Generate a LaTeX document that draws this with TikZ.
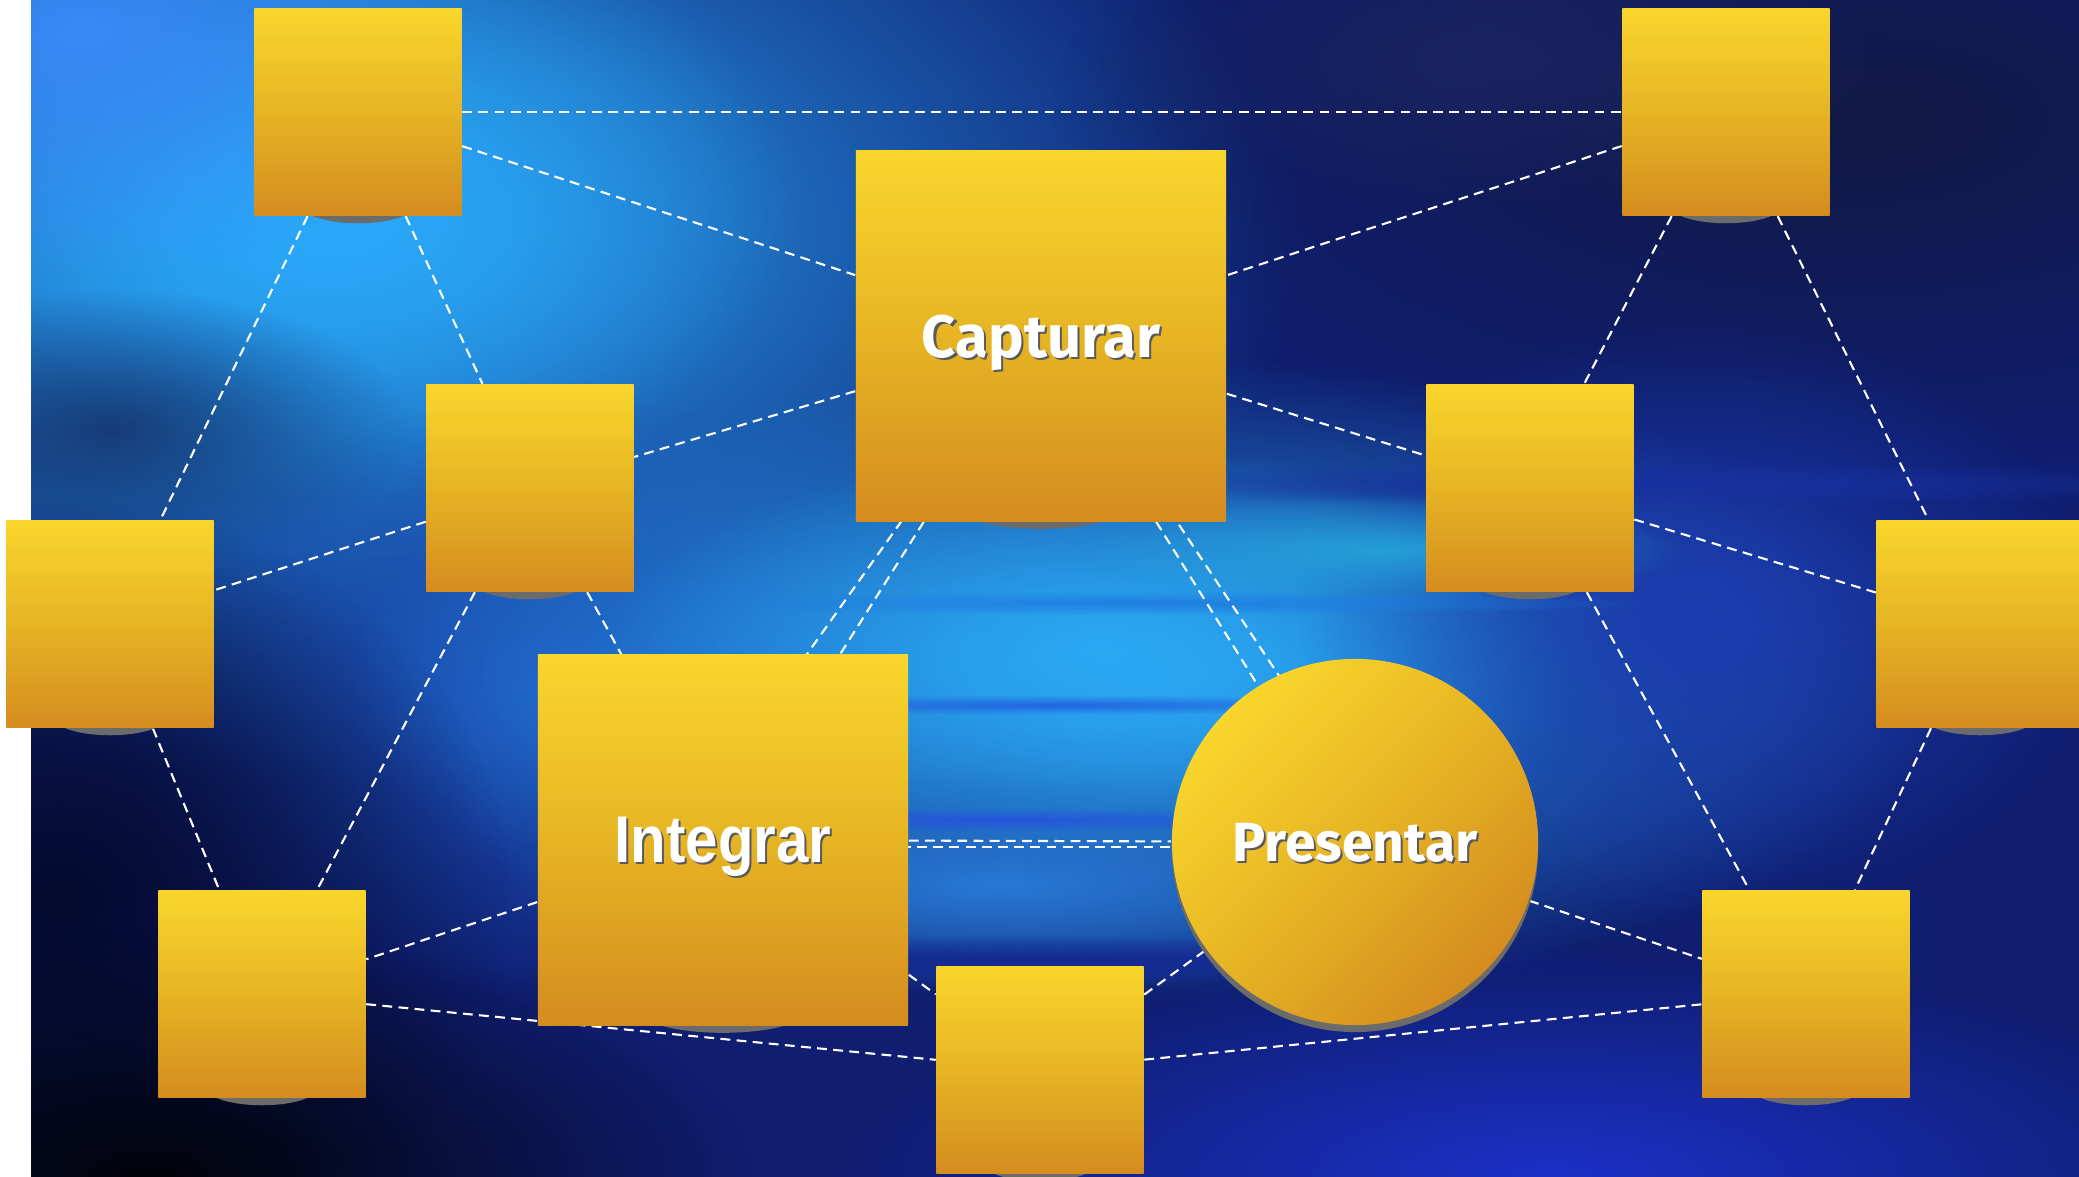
\documentclass[tikz,border=0pt]{standalone}
\usepackage{fontspec}
\newfontfamily\capfont{Fira Sans}
\newfontfamily\intfont{Liberation Sans}[FakeStretch=0.88]
\usetikzlibrary{positioning, calc, fadings}

\definecolor{boxtop}{HTML}{F9D62C}
\definecolor{boxmid}{HTML}{E6B424}
\definecolor{boxbot}{HTML}{D58C1F}
\definecolor{plinthgray}{HTML}{6B6B6B}
\definecolor{txtshade}{HTML}{5A5A5A}
\definecolor{navy}{HTML}{0F1E70}

\tikzfading[name=blobfade, inner color=transparent!0, outer color=transparent!100]

\pgfdeclarelayer{backdrop}
\pgfdeclarelayer{links}
\pgfdeclarelayer{plinth}
\pgfsetlayers{backdrop,links,plinth,main}

\newcommand{\liftlabel}[1]{%
  \rlap{\hspace{0.6pt}\raisebox{-0.6pt}{\textcolor{txtshade}{#1}}}\textcolor{white}{#1}}

\begin{document}
\begin{tikzpicture}[
  x=0.01cm, y=-0.01cm,
  tile/.style    = {rectangle, inner sep=0pt, minimum size=2.07cm, text depth=0pt,
                    top color=boxtop, bottom color=boxbot, middle color=boxmid},
  bigtile/.style = {tile, minimum size=3.70cm},
  disc/.style    = {circle, inner sep=0pt, minimum size=3.66cm, text depth=0pt,
                    top color=boxtop, bottom color=boxbot, middle color=boxmid, shading angle=45},
  link/.style    = {draw=white, line width=0.6pt, dash pattern=on 2.8pt off 1.8pt},
  glow/.style    = {path fading=blobfade},
]
  \useasboundingbox (0,0) rectangle (2079,1177);

  \node[tile]    (tl)    at (358,112)  {};
  \node[tile]    (tr)    at (1726,112) {};
  \node[bigtile] (cap)   at (1041,336)
    {\capfont\bfseries\fontsize{17}{20}\selectfont\liftlabel{Capturar}};
  \node[tile]    (lm)    at (530,488)  {};
  \node[tile]    (rm)    at (1530,488) {};
  \node[tile]    (fl)    at (110,624)  {};
  \node[tile]    (fr)    at (1980,624) {};
  \node[bigtile] (integ) at (723,840)
    {\intfont\bfseries\fontsize{18.8}{22}\selectfont\liftlabel{Integrar}};
  \node[disc]    (pres)  at (1355,842)
    {\capfont\bfseries\fontsize{15.7}{19}\selectfont\liftlabel{Presentar}};
  \node[tile]    (bl)    at (262,994)  {};
  \node[tile]    (bm)    at (1040,1070) {};
  \node[tile]    (br)    at (1806,994) {};

  \begin{pgfonlayer}{backdrop}
    \fill[white] (0,0) rectangle (2079,1177);
    \begin{scope}
      \clip (31,0) rectangle (2079,1177);
      \fill[navy] (31,0) rectangle (2079,1177);
      \fill[glow, fill={rgb,255:red,42;green,166;blue,246}] (350,230) ellipse [x radius=9.5cm, y radius=5.5cm];
      \fill[glow, fill={rgb,255:red,42;green,168;blue,248}] (300,200) ellipse [x radius=5cm, y radius=3cm];
      \fill[glow, fill={rgb,255:red,58;green,136;blue,246}] (80,30) ellipse [x radius=4cm, y radius=2.5cm];
      \fill[glow, fill={rgb,255:red,30;green,86;blue,192}] (560,700) ellipse [x radius=4.5cm, y radius=3cm];
      \fill[glow, fill={rgb,255:red,42;green,162;blue,242}] (1150,680) ellipse [x radius=8cm, y radius=3.2cm];
      \fill[glow, fill={rgb,255:red,42;green,168;blue,244}] (1100,650) ellipse [x radius=5cm, y radius=2cm];
      \fill[glow, fill={rgb,255:red,40;green,120;blue,214}] (1000,885) ellipse [x radius=5cm, y radius=1.1cm];
      \fill[glow, fill={rgb,255:red,18;green,26;blue,69}] (1850,120) ellipse [x radius=8cm, y radius=3.5cm];
      \fill[glow, fill={rgb,255:red,26;green,37;blue,96}] (1500,60) ellipse [x radius=4cm, y radius=1.5cm];
      \fill[glow, fill={rgb,255:red,28;green,60;blue,176}] (1700,620) ellipse [x radius=4cm, y radius=3cm];
      \fill[glow, fill={rgb,255:red,22;green,60;blue,120}] (110,430) ellipse [x radius=3cm, y radius=1.4cm];
      \fill[glow, fill={rgb,255:red,4;green,10;blue,44}] (60,900) ellipse [x radius=4.5cm, y radius=4cm];
      \fill[glow, fill={rgb,255:red,1;green,2;blue,8}] (150,1177) ellipse [x radius=6cm, y radius=2.5cm];
      \fill[glow, fill={rgb,255:red,28;green,48;blue,200}] (1550,1177) ellipse [x radius=7cm, y radius=2.2cm];
      \fill[glow, fill={rgb,255:red,24;green,48;blue,160}] (1650,484) ellipse [x radius=6cm, y radius=0.22cm];
      \fill[glow, fill={rgb,255:red,37;green,160;blue,216}] (1380,550) ellipse [x radius=3cm, y radius=0.55cm];
      \fill[glow, fill={rgb,255:red,31;green,126;blue,224}] (1150,603) ellipse [x radius=5cm, y radius=0.12cm];
      \fill[glow, fill={rgb,255:red,34;green,100;blue,224}] (1050,705) ellipse [x radius=4cm, y radius=0.1cm];
      \fill[glow, fill={rgb,255:red,36;green,86;blue,220}] (1000,820) ellipse [x radius=4cm, y radius=0.12cm];
      \fill[glow, fill={rgb,255:red,20;green,38;blue,144}] (1050,960) ellipse [x radius=6cm, y radius=0.25cm];
    \end{scope}
  \end{pgfonlayer}

  \begin{pgfonlayer}{links}
    \draw[link] (tl) -- (tr);
    \draw[link] (tl) -- (cap);
    \draw[link] (tl) -- (fl);
    \draw[link] (tl) -- (lm);
    \draw[link] (tr) -- (cap);
    \draw[link] (tr) -- (rm);
    \draw[link] (tr) -- (fr);
    \draw[link] (cap) -- (lm);
    \draw[link] (cap) -- (rm);
    \draw[link] (cap) -- (integ);
    \draw[link] ($(cap.center)+(-8,0)$) -- ($(integ.center)+(-48,0)$);
    \draw[link] (cap) -- (pres);
    \draw[link] ($(cap.center)+(13,0)$) -- ($(pres.center)+(34,0)$);
    \draw[link] (lm) -- (fl);
    \draw[link] (lm) -- (bl);
    \draw[link] (lm) -- (integ);
    \draw[link] (rm) -- (fr);
    \draw[link] (rm) -- (br);
    \draw[link] (fl) -- (bl);
    \draw[link] (fr) -- (br);
    \draw[link] (integ) -- (pres);
    \draw[link] ($(integ.center)+(0,7)$) -- ($(pres.center)+(0,5)$);
    \draw[link] (integ) -- (bl);
    \draw[link] (integ) -- (bm);
    \draw[link] (bl) -- (bm);
    \draw[link] (bm) -- (pres);
    \draw[link] (bm) -- (br);
    \draw[link] (pres) -- (br);
  \end{pgfonlayer}

  \begin{pgfonlayer}{plinth}
    \foreach \n in {tl,tr,lm,rm,fl,fr,bl,bm,br}
      \fill[plinthgray] ($(\n.south)+(0,-10)$) ellipse [x radius=0.55cm, y radius=0.17cm];
    \foreach \n in {cap,integ}
      \fill[plinthgray] ($(\n.south)+(0,-13)$) ellipse [x radius=0.80cm, y radius=0.20cm];
    \fill[plinthgray] ($(pres.center)+(0,7)$) circle [radius=1.83cm];
  \end{pgfonlayer}
\end{tikzpicture}
\end{document}
